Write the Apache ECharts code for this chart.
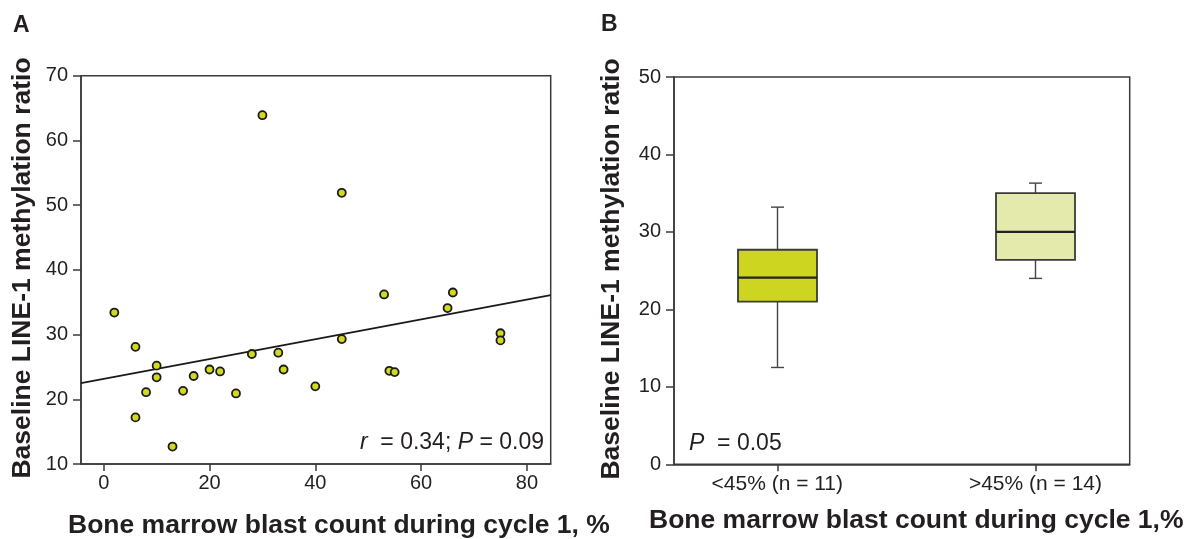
<!DOCTYPE html>
<html>
<head>
<meta charset="utf-8">
<script src="https://cdn.jsdelivr.net/npm/echarts@6/dist/echarts.min.js"></script>
<style>
html,body{margin:0;padding:0;background:#fff;}
#chart{width:1188px;height:539px;}
</style>
</head>
<body>
<div id="chart"></div>
<script>
// ---- Panel A: scatter data ----
var scatterX = [2, 6, 6, 8, 10, 10, 13, 15, 17, 20, 22, 25, 28, 30, 33, 34, 40, 45, 45, 53, 54, 55, 65, 66, 75, 75];
var scatterY = [33.4, 28.1, 17.2, 21.1, 25.2, 23.4, 12.7, 21.3, 23.6, 24.6, 24.3, 20.9, 27.0, 63.9, 27.2, 24.6, 22.0, 51.9, 29.3, 36.2, 24.4, 24.2, 34.1, 36.5, 30.2, 29.1];
// regression line endpoints
var fitX = [-4.3, 84.5];
var fitY = [22.5, 36.1];
var leftXTicks = [0, 20, 40, 60, 80];
var leftYTicks = [10, 20, 30, 40, 50, 60, 70];

// ---- Panel B: box plot data ----
var groupLabels = ['<45% (n = 11)', '>45% (n = 14)'];
var groupPos = [1, 2];
var boxLow = [12.5, 24.0];
var boxQ1 = [21.0, 26.4];
var boxMedian = [24.1, 30.0];
var boxQ3 = [27.7, 35.0];
var boxHigh = [33.2, 36.3];
var boxColors = ['#cdd521', '#e4eaab'];

var FONT = '"Liberation Sans", Arial, Helvetica, sans-serif';
var TXT = '#231f20';
var AX = '#3a3a3a';

var scatterData = scatterX.map(function (x, i) { return [x, scatterY[i]]; });
var fitData = fitX.map(function (x, i) { return [x, fitY[i]]; });
var boxData = groupPos.map(function (p, i) {
  return [p, boxLow[i], boxQ1[i], boxMedian[i], boxQ3[i], boxHigh[i], i];
});

var chart = echarts.init(document.getElementById('chart'), null, {renderer: 'canvas'});

function axisCommon(fs) {
  return {
    axisLine: {show: true, onZero: false, lineStyle: {color: AX, width: 1.5}},
    axisTick: {show: true, inside: false, length: 8, lineStyle: {color: AX, width: 1.5}},
    splitLine: {show: false},
    axisLabel: {color: TXT, fontFamily: FONT, fontSize: fs}
  };
}

var xA = axisCommon(20);
xA.gridIndex = 0; xA.type = 'value'; xA.min = -4.3; xA.max = 84.5;
xA.axisTick.length = 7;
xA.axisLabel.customValues = leftXTicks;
xA.axisTick.customValues = leftXTicks;
xA.axisLabel.margin = 9;

var yA = axisCommon(20);
yA.gridIndex = 0; yA.type = 'value'; yA.min = leftYTicks[0]; yA.max = leftYTicks[leftYTicks.length - 1]; yA.interval = 10;
yA.axisLabel.margin = 13;

var xB = axisCommon(21);
xB.gridIndex = 1; xB.type = 'value'; xB.min = 0.6; xB.max = 2.365;
xB.axisTick.length = 7;
xB.axisLabel.customValues = groupPos;
xB.axisTick.customValues = groupPos;
xB.axisLabel.margin = 9;
xB.axisLabel.formatter = function (v) {
  var i = groupPos.indexOf(Math.round(v));
  return i >= 0 ? groupLabels[i] : '';
};

var yB = axisCommon(20);
yB.gridIndex = 1; yB.type = 'value'; yB.min = 0; yB.max = 50; yB.interval = 10;
yB.axisLabel.margin = 13;

function renderBox(params, api) {
  var x = api.value(0);
  var low = api.coord([x, api.value(1)]);
  var q1 = api.coord([x, api.value(2)]);
  var med = api.coord([x, api.value(3)]);
  var q3 = api.coord([x, api.value(4)]);
  var high = api.coord([x, api.value(5)]);
  var idx = api.value(6);
  var cx = Math.round(low[0]) + 0.5;
  var hw = 39.5, cap = 6.5;
  var lineStyle = {stroke: '#444', lineWidth: 1.4, fill: null};
  return {
    type: 'group',
    children: [
      {type: 'line', shape: {x1: cx, y1: high[1], x2: cx, y2: q3[1]}, style: lineStyle},
      {type: 'line', shape: {x1: cx, y1: q1[1], x2: cx, y2: low[1]}, style: lineStyle},
      {type: 'line', shape: {x1: cx - cap, y1: high[1], x2: cx + cap, y2: high[1]}, style: lineStyle},
      {type: 'line', shape: {x1: cx - cap, y1: low[1], x2: cx + cap, y2: low[1]}, style: lineStyle},
      {type: 'rect', shape: {x: cx - hw, y: q3[1], width: hw * 2, height: q1[1] - q3[1]},
        style: {fill: boxColors[idx], stroke: '#3a3a3a', lineWidth: 1.8}},
      {type: 'line', shape: {x1: cx - hw, y1: med[1], x2: cx + hw, y2: med[1]},
        style: {stroke: '#222', lineWidth: 2.2}}
    ]
  };
}

var option = {
  backgroundColor: '#ffffff',
  animation: false,
  textStyle: {fontFamily: FONT},
  grid: [
    {left: 81, top: 75.7, width: 469.7, height: 388.3, show: true, borderColor: AX, borderWidth: 1.5, backgroundColor: 'transparent'},
    {left: 674, top: 77, width: 455.7, height: 387.3, show: true, borderColor: AX, borderWidth: 1.5, backgroundColor: 'transparent'}
  ],
  xAxis: [xA, xB],
  yAxis: [yA, yB],
  series: [
    {
      type: 'line', xAxisIndex: 0, yAxisIndex: 0, data: fitData,
      symbol: 'none', lineStyle: {color: '#1a1a1a', width: 1.6}, z: 2, silent: true
    },
    {
      type: 'scatter', xAxisIndex: 0, yAxisIndex: 0, data: scatterData,
      symbol: 'circle', symbolSize: 8,
      itemStyle: {color: '#d2da1f', borderColor: '#1a1a1a', borderWidth: 1.8, opacity: 1}, z: 3
    },
    {
      type: 'custom', xAxisIndex: 1, yAxisIndex: 1, data: boxData,
      renderItem: renderBox, z: 3
    }
  ],
  graphic: [
    {type: 'text', x: 13, y: 25.5, style: {text: 'A', font: 'bold 23px ' + FONT, fill: TXT, verticalAlign: 'middle'}},
    {type: 'text', x: 601, y: 25, style: {text: 'B', font: 'bold 23px ' + FONT, fill: TXT, verticalAlign: 'middle'}},
    {type: 'text', x: 23, y: 268, rotation: Math.PI / 2,
      style: {text: 'Baseline LINE-1 methylation ratio', font: 'bold 26.5px ' + FONT, fill: TXT, align: 'center', verticalAlign: 'middle'}},
    {type: 'text', x: 612, y: 269, rotation: Math.PI / 2,
      style: {text: 'Baseline LINE-1 methylation ratio', font: 'bold 26.5px ' + FONT, fill: TXT, align: 'center', verticalAlign: 'middle'}},
    {type: 'text', x: 68, y: 526,
      style: {text: 'Bone marrow blast count during cycle 1, %', font: 'bold 26.5px ' + FONT, fill: TXT, align: 'left', verticalAlign: 'middle'}},
    {type: 'text', x: 649, y: 521,
      style: {text: 'Bone marrow blast count during cycle 1,%', font: 'bold 26.5px ' + FONT, fill: TXT, align: 'left', verticalAlign: 'middle'}},
    {type: 'text', x: 544, y: 443, z: 10,
      style: {text: '{i|r}  = 0.34; {i|P} = 0.09', font: '23px ' + FONT, fill: TXT, align: 'right', verticalAlign: 'middle',
        rich: {i: {fontStyle: 'italic', fontSize: 23, fontFamily: FONT, fill: TXT}}}},
    {type: 'text', x: 689, y: 444, z: 10,
      style: {text: '{i|P}  = 0.05', font: '23px ' + FONT, fill: TXT, align: 'left', verticalAlign: 'middle',
        rich: {i: {fontStyle: 'italic', fontSize: 23, fontFamily: FONT, fill: TXT}}}}
  ]
};
chart.setOption(option);
</script>
</body>
</html>
